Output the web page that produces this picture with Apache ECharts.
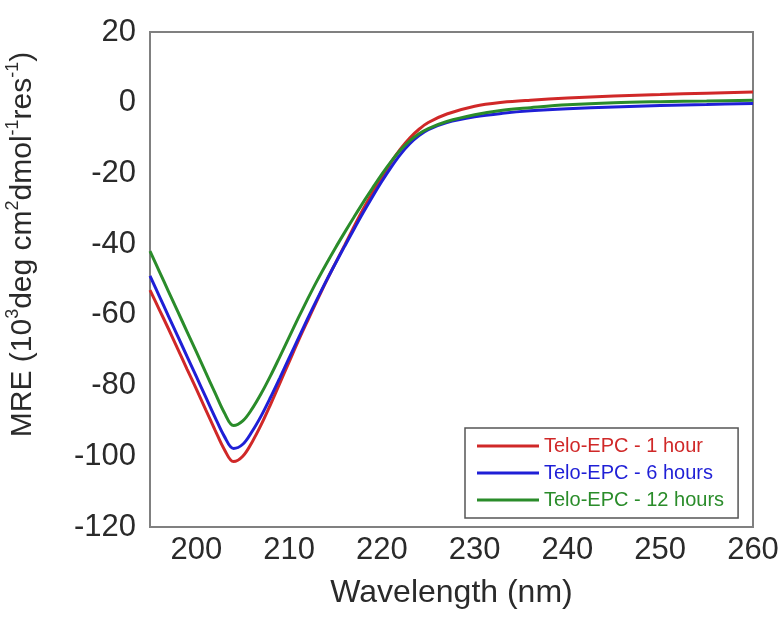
<!DOCTYPE html>
<html>
<head>
<meta charset="utf-8">
<script src="https://cdn.jsdelivr.net/npm/echarts@6/dist/echarts.min.js"></script>
<style>html,body{margin:0;padding:0;background:#fff}#c{width:784px;height:617px}</style>
</head>
<body>
<div id="c"></div>
<script>
const wavelengths = [195,196,197,198,199,200,201,202,203,204,205,206,207,208,209,210,211,212,213,214,215,216,217,218,219,220,221,222,223,224,225,227,230,233,236,240,245,250,255,260];
const red1h = [-53,-58.5,-64,-69.7,-75.4,-81,-86.8,-92.5,-98,-101.5,-100,-96,-91,-85.3,-79.3,-73.3,-67.3,-61.6,-56,-50.5,-45.3,-40.2,-35,-30,-25.4,-21,-16.8,-13.1,-10,-7.5,-5.6,-3.2,-1.0,0.1,0.7,1.3,1.9,2.3,2.7,3.0];
const blue6h = [-49,-54.7,-60.4,-66.1,-71.8,-77.5,-83.2,-88.9,-94.3,-97.8,-96.6,-93,-88.5,-83.3,-77.8,-72.2,-66.6,-61,-55.6,-50.4,-45.4,-40.5,-35.7,-31,-26.5,-22.2,-18.2,-14.6,-11.6,-9.3,-7.6,-5.6,-4.0,-3.0,-2.3,-1.7,-1.2,-0.8,-0.5,-0.2];
const green12h = [-42,-47.7,-53.4,-59.1,-64.8,-70.5,-76.3,-82,-87.6,-91.3,-90,-86.6,-82.2,-77.2,-71.8,-66.3,-60.8,-55.5,-50.4,-45.6,-41,-36.6,-32.3,-28.1,-24.1,-20.2,-16.6,-13.4,-10.8,-8.8,-7.3,-5.3,-3.4,-2.1,-1.4,-0.6,0,0.3,0.5,0.7];
const seriesNames = ['Telo-EPC - 1 hour','Telo-EPC - 6 hours','Telo-EPC - 12 hours'];
const seriesColors = ['#d02828','#1f1fd6','#2a8c2a'];
const xTicks = [200,210,220,230,240,250,260];
const yTicks = [20,0,-20,-40,-60,-80,-100,-120];

const allVals = [red1h, blue6h, green12h];
const font = 'Liberation Sans, Arial, sans-serif';
const txt = '#2a2a2a';
const chart = echarts.init(document.getElementById('c'));
chart.setOption({
  animation: false,
  backgroundColor: '#fff',
  grid: {left:150, right:31, top:32, bottom:90, show:true, borderColor:'#808080', borderWidth:2, backgroundColor:'#fff', outerBoundsMode:'none', containLabel:false},
  xAxis: {
    type:'value', min:195, max:260, interval:5,
    axisLine:{show:true, onZero:false, lineStyle:{color:'#808080', width:2}},
    axisTick:{show:false}, splitLine:{show:false},
    axisLabel:{fontFamily:font, fontSize:31, color:txt, margin:8,
      formatter: v => xTicks.includes(v) ? String(v) : ''},
    name:'Wavelength (nm)', nameLocation:'middle', nameGap:50,
    nameTextStyle:{fontFamily:font, fontSize:32, color:txt}
  },
  yAxis: {
    type:'value', min:-120, max:20, interval:20,
    axisLine:{show:true, onZero:false, lineStyle:{color:'#808080', width:2}},
    axisTick:{show:false}, splitLine:{show:false},
    axisLabel:{fontFamily:font, fontSize:31, color:txt, margin:14,
      formatter: v => yTicks.includes(v) ? String(v) : ''},
    name:'{n|MRE (10}{s|3}{n|deg cm}{s|2}{n|dmol}{s|-1}{n|res}{s|-1}{n|)}',
    nameLocation:'middle', nameGap:112, nameRotate:90,
    nameTextStyle:{fontFamily:font, fontSize:30, color:txt, padding:[0,0,0,70],
      rich:{
        n:{fontFamily:font, fontSize:30, color:txt, verticalAlign:'bottom', lineHeight:34},
        s:{fontFamily:font, fontSize:18, color:txt, verticalAlign:'top', lineHeight:34, padding:[0,0,14,0]}
      }}
  },
  legend: {
    orient:'vertical', left:465, top:428,
    borderColor:'#555', borderWidth:1.5, padding:[8,14,8,12],
    itemWidth:62, itemHeight:3, itemGap:7, icon:'rect',
    textStyle:{fontFamily:font, fontSize:20},
    data: seriesNames.map((n,i)=>({name:n, textStyle:{color:seriesColors[i], fontFamily:font, fontSize:20}}))
  },
  series: seriesNames.map((n,i)=>({
    name:n, type:'line', smooth:0.35, showSymbol:false, symbol:'none',
    lineStyle:{color:seriesColors[i], width:3}, itemStyle:{color:seriesColors[i]},
    data: wavelengths.map((w,j)=>[w, allVals[i][j]])
  }))
});
</script>
</body>
</html>
